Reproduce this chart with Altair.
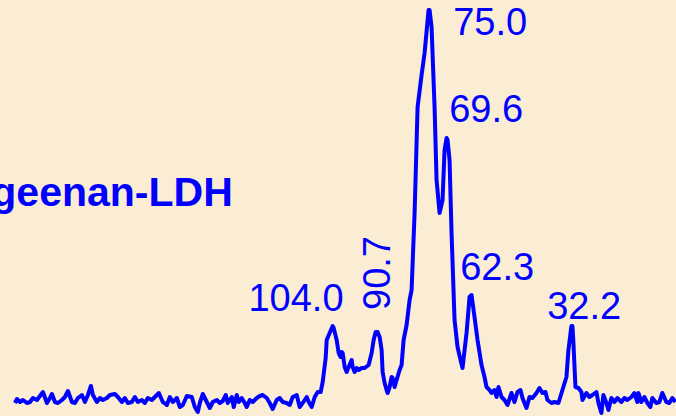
import altair as alt
import pandas as pd

# 13C NMR spectrum (chemical shift in ppm, relative intensity)
ppm = [199.5, 198.9, 198.0, 197.1, 195.9, 195.0, 194.1, 192.9, 192.0, 191.1,
       189.9, 189.0, 188.4, 187.5, 186.6, 185.4, 184.5, 183.6, 182.4, 181.5,
       180.6, 179.4, 178.5, 177.6, 176.7, 176.1, 174.9, 174.0, 173.1, 171.9,
       171.0, 169.5, 168.6, 167.4, 166.5, 165.6, 164.4, 163.5, 162.6, 161.4,
       160.5, 159.6, 158.4, 157.5, 156.3, 155.1, 153.9, 153.0, 152.1, 150.9,
       150.0, 149.1, 147.9, 146.4, 145.5, 144.6, 144.0, 143.1, 141.9, 141.0,
       140.1, 138.9, 138.0, 137.1, 136.2, 135.6, 134.4, 133.8, 132.9, 132.3,
       131.4, 130.5, 129.9, 129.0, 128.1, 126.9, 126.0, 125.1, 123.9, 123.0,
       122.1, 120.9, 120.0, 119.1, 117.9, 117.0, 116.1, 114.9, 114.0, 113.1,
       111.9, 111.3, 110.4, 109.5, 108.6, 107.7, 107.1, 106.2, 105.9, 105.0,
       104.1, 103.8, 102.9, 102.3, 101.7, 101.4, 101.1, 100.5, 99.9, 99.3,
       98.4, 98.1, 97.5, 96.9, 96.3, 95.4, 94.5, 93.3, 92.4, 91.8,
       91.2, 90.6, 90.0, 89.4, 89.1, 88.5, 87.9, 87.6, 87.0, 86.4,
       86.1, 85.5, 84.9, 84.0, 83.4, 82.8, 81.9, 81.0, 80.4, 79.5,
       78.6, 77.4, 76.5, 75.3, 75.0, 74.4, 73.5, 72.9, 72.0, 71.1,
       70.5, 69.9, 69.6, 69.0, 68.4, 67.5, 66.6, 65.7, 65.1, 63.9,
       63.0, 62.4, 61.5, 60.6, 59.4, 58.5, 57.9, 57.0, 56.4, 55.5,
       54.9, 54.3, 53.4, 52.5, 51.6, 50.4, 49.5, 48.6, 47.7, 47.1,
       45.9, 45.0, 44.1, 42.9, 42.0, 41.1, 40.2, 39.6, 38.4, 37.5,
       36.3, 35.1, 33.9, 33.3, 32.4, 32.1, 31.8, 31.5, 31.2, 30.3,
       29.4, 29.1, 27.9, 27.0, 26.1, 24.9, 24.3, 23.4, 22.8, 21.9,
       21.3, 20.4, 19.5, 18.6, 17.4, 16.5, 15.6, 14.4, 13.5, 12.6,
       12.3, 11.4, 10.5, 9.6, 8.7, 8.1, 6.9, 6.0, 5.1, 3.9,
       3.0, 2.1, 1.2]

intensity = [-3, 1, -2, 0, -3, -2, 2, 0, 4, 8,
             -3, 2, 6, -2, -3, 0, 3, 9, -2, -3,
             2, 5, -2, 5, 14, 5, -2, 2, 0, 2,
             5, 6, 3, -2, 2, -3, -2, 3, -2, 0,
             -3, 2, 0, 3, 7, -2, -5, 3, -2, 2,
             -7, -5, 4, 3, -7, -12, -3, 6, -2, -8,
             -2, 0, -3, -1, 5, -3, 3, -7, 5, -2,
             2, -3, -7, 0, -2, 2, 4, 5, 2, -3,
             -9, 0, 2, -2, -3, -5, 3, 5, -7, -3,
             3, -2, -7, 3, 8, 8, 18, 42, 60, 67,
             74, 72, 60, 47, 43, 48, 47, 33, 28, 33,
             40, 33, 28, 32, 30, 32, 32, 35, 47, 60,
             68, 68, 63, 50, 28, 17, 10, 7, 13, 23,
             22, 13, 20, 30, 35, 60, 75, 100, 110, 187,
             293, 325, 347, 390, 390, 373, 293, 220, 187, 200,
             250, 262, 260, 240, 167, 80, 53, 40, 32, 67,
             103, 105, 83, 60, 35, 23, 13, 10, 7, 10,
             3, 13, 3, 0, -5, 7, -2, 8, 10, 2,
             -8, 3, 2, 7, 12, 7, 8, 0, -3, -2,
             -3, 10, 23, 50, 74, 74, 57, 35, 13, 12,
             8, 0, 7, 3, 5, 8, -3, -13, 5, -3,
             -10, 2, -2, 2, -2, 2, 0, 3, 7, -2,
             7, -2, 3, -3, -7, 2, -3, -2, 7, -2,
             -3, 2, -2]

# peak labels: text, anchor shift (ppm), anchor intensity, angle
label_text = ["104.0", "90.7", "75.0", "69.6", "62.3", "32.2"]
label_ppm = [129.4, 87.0, 67.9, 69.1, 65.8, 39.7]
label_int = [89, 90, 365, 278, 120, 81]
label_angle = [0, 270, 0, 0, 0, 0]

title_text = ["Carrageenan-LDH"]
title_ppm = [134.1]
title_int = [194]

spec = pd.DataFrame({"ppm": ppm, "intensity": intensity, "order": range(len(ppm))})
labels = pd.DataFrame({"text": label_text, "ppm": label_ppm, "intensity": label_int,
                       "angle": label_angle})
title_df = pd.DataFrame({"text": title_text, "ppm": title_ppm, "intensity": title_int})

xs = alt.Scale(domain=[204, 1], nice=False, zero=False)
ys = alt.Scale(domain=[-16, 400], nice=False, zero=False)
BLUE = "#0000ff"

line = alt.Chart(spec).mark_line(color=BLUE, strokeWidth=4, strokeJoin="round",
                                 clip=True).encode(
    x=alt.X("ppm:Q", scale=xs, axis=None),
    y=alt.Y("intensity:Q", scale=ys, axis=None),
    order="order:Q",
)

flat = labels[labels["angle"] == 0]
rot = labels[labels["angle"] != 0]

txt = alt.Chart(flat).mark_text(color=BLUE, font="Liberation Sans", fontSize=38,
                                align="left", baseline="alphabetic").encode(
    x=alt.X("ppm:Q", scale=xs, axis=None),
    y=alt.Y("intensity:Q", scale=ys, axis=None),
    text="text:N",
)

txt_rot = alt.Chart(rot).mark_text(color=BLUE, font="Liberation Sans", fontSize=38,
                                   align="left", baseline="alphabetic", angle=270).encode(
    x=alt.X("ppm:Q", scale=xs, axis=None),
    y=alt.Y("intensity:Q", scale=ys, axis=None),
    text="text:N",
)

ttl = alt.Chart(title_df).mark_text(color=BLUE, font="Liberation Sans", fontSize=41,
                                    fontWeight="bold", align="right",
                                    baseline="alphabetic").encode(
    x=alt.X("ppm:Q", scale=xs, axis=None),
    y=alt.Y("intensity:Q", scale=ys, axis=None),
    text="text:N",
)

chart = alt.layer(line, txt, txt_rot, ttl).properties(
    width=676, height=416, padding=0, background="#faedd3",
    autosize=alt.AutoSizeParams(type="none"),
).configure_view(stroke=None)

chart.save("out.html", embed_options={"renderer": "svg", "actions": False})
